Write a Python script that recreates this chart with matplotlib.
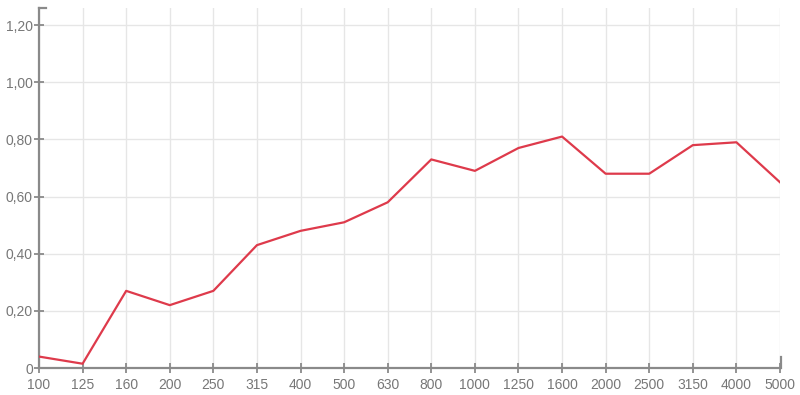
import matplotlib
matplotlib.use("Agg")
import matplotlib.pyplot as plt

plt.rcParams["font.family"] = ["Liberation Sans", "DejaVu Sans"]

freqs = ["100", "125", "160", "200", "250", "315", "400", "500", "630", "800",
         "1000", "1250", "1600", "2000", "2500", "3150", "4000", "5000"]
alpha = [0.04, 0.015, 0.27, 0.22, 0.27, 0.43, 0.48, 0.51, 0.58, 0.73,
         0.69, 0.77, 0.81, 0.68, 0.68, 0.78, 0.79, 0.65]
yticks = [0, 0.2, 0.4, 0.6, 0.8, 1.0, 1.2]
ytick_labels = ["0", "0,20", "0,40", "0,60", "0,80", "1,00", "1,20"]

AXIS_COL = "#8a8a8a"
TEXT_COL = "#777777"
GRID_COL = "#e6e6e6"

fig = plt.figure(figsize=(8, 3.95), dpi=100)
ax = fig.add_axes([39 / 800, 27 / 395, 741 / 800, 360 / 395])

x = list(range(len(freqs)))
ax.plot(x, alpha, color="#de3a4b", linewidth=1.6, solid_joinstyle="round", zorder=3)

ax.set_xlim(0, len(freqs) - 1)
ax.set_ylim(0, 1.26)
ax.set_xticks(x)
ax.set_xticklabels(freqs)
ax.set_yticks(yticks)
ax.set_yticklabels(ytick_labels)

ax.grid(True, color=GRID_COL, linewidth=1.0, zorder=0)
ax.set_axisbelow(True)

for side in ["top", "right"]:
    ax.spines[side].set_visible(False)
for side in ["left", "bottom"]:
    ax.spines[side].set_color(AXIS_COL)
    ax.spines[side].set_linewidth(1.6)

ax.tick_params(axis="both", direction="inout", length=7, width=1.3,
               color=AXIS_COL, labelcolor=TEXT_COL, labelsize=10)
ax.tick_params(axis="x", pad=4)
ax.tick_params(axis="y", pad=1)

# outer ticks at the ends of the axis lines
ax.plot([0, 0.009], [1, 1], transform=ax.transAxes, color=AXIS_COL,
        linewidth=1.6, clip_on=False)
ax.plot([1.001, 1.001], [0, 0.03], transform=ax.transAxes, color=AXIS_COL,
        linewidth=1.6, clip_on=False)

fig.savefig("out.png", dpi=100)
